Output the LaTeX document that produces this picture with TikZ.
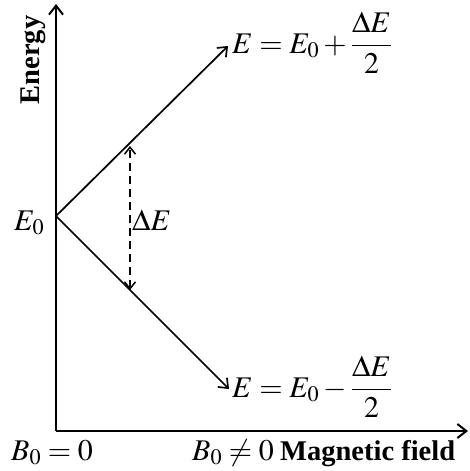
\documentclass[tikz,border=0pt]{standalone}
\usepackage{mathptmx}
\usepackage[no-math]{fontspec}
\setmainfont{Liberation Serif}
\usetikzlibrary{arrows.meta}
\tikzset{
  axis/.style={line width=2pt,-{Straight Barb[length=9pt,width=14pt,line width=2pt]}},
  level/.style={line width=1.7pt,-{Straight Barb[length=8pt,width=13pt,line width=1.7pt]}},
  gap/.style={line width=1.5pt,dash pattern=on 8pt off 5pt,{Straight Barb[length=7pt,width=11pt,line width=1.5pt]}-{Straight Barb[length=7pt,width=11pt,line width=1.5pt]}},
  lab/.style={inner sep=0pt,font=\fontsize{28.5}{33}\selectfont\bfseries},
  mlab/.style={inner sep=0pt,font=\fontsize{30}{36}\selectfont}
}
\begin{document}
\begin{tikzpicture}[x=1pt,y=-1pt]
\useasboundingbox (0,0) rectangle (470,471);
\coordinate (O) at (56,431);
\coordinate (T) at (56,4);
\coordinate (R) at (468,431);
\coordinate (E0) at (56,216);
\coordinate (U) at (228,46);
\coordinate (D) at (229,389);
\coordinate (dt) at (130,146);
\coordinate (db) at (130,290);
\draw[axis] (O) -- (T);
\draw[axis] (O) -- (R);
\draw[level] (E0) -- (U);
\draw[level] (E0) -- (D);
\draw[gap] (db) -- (dt);
\node[lab,rotate=90] (en) at (33,60) {Energy};
\node[lab,anchor=base west] (mf) at (280,460) {Magnetic field};
\node[mlab,anchor=base west] (e0) at (14,230) {$E_0$};
\node[mlab,anchor=base west] (de) at (132,230) {$\Delta E$};
\node[mlab,anchor=base west] (up) at (232,53) {$E=E_0+\displaystyle\frac{\Delta E}{2}$};
\node[mlab,anchor=base west] (dn) at (232,397) {$E=E_0-\displaystyle\frac{\Delta E}{2}$};
\node[mlab,anchor=base west] (b0) at (11,460) {$B_0=0$};
\node[mlab,anchor=base west] (b1) at (192,460) {$B_0\neq 0$};
\end{tikzpicture}
\end{document}
